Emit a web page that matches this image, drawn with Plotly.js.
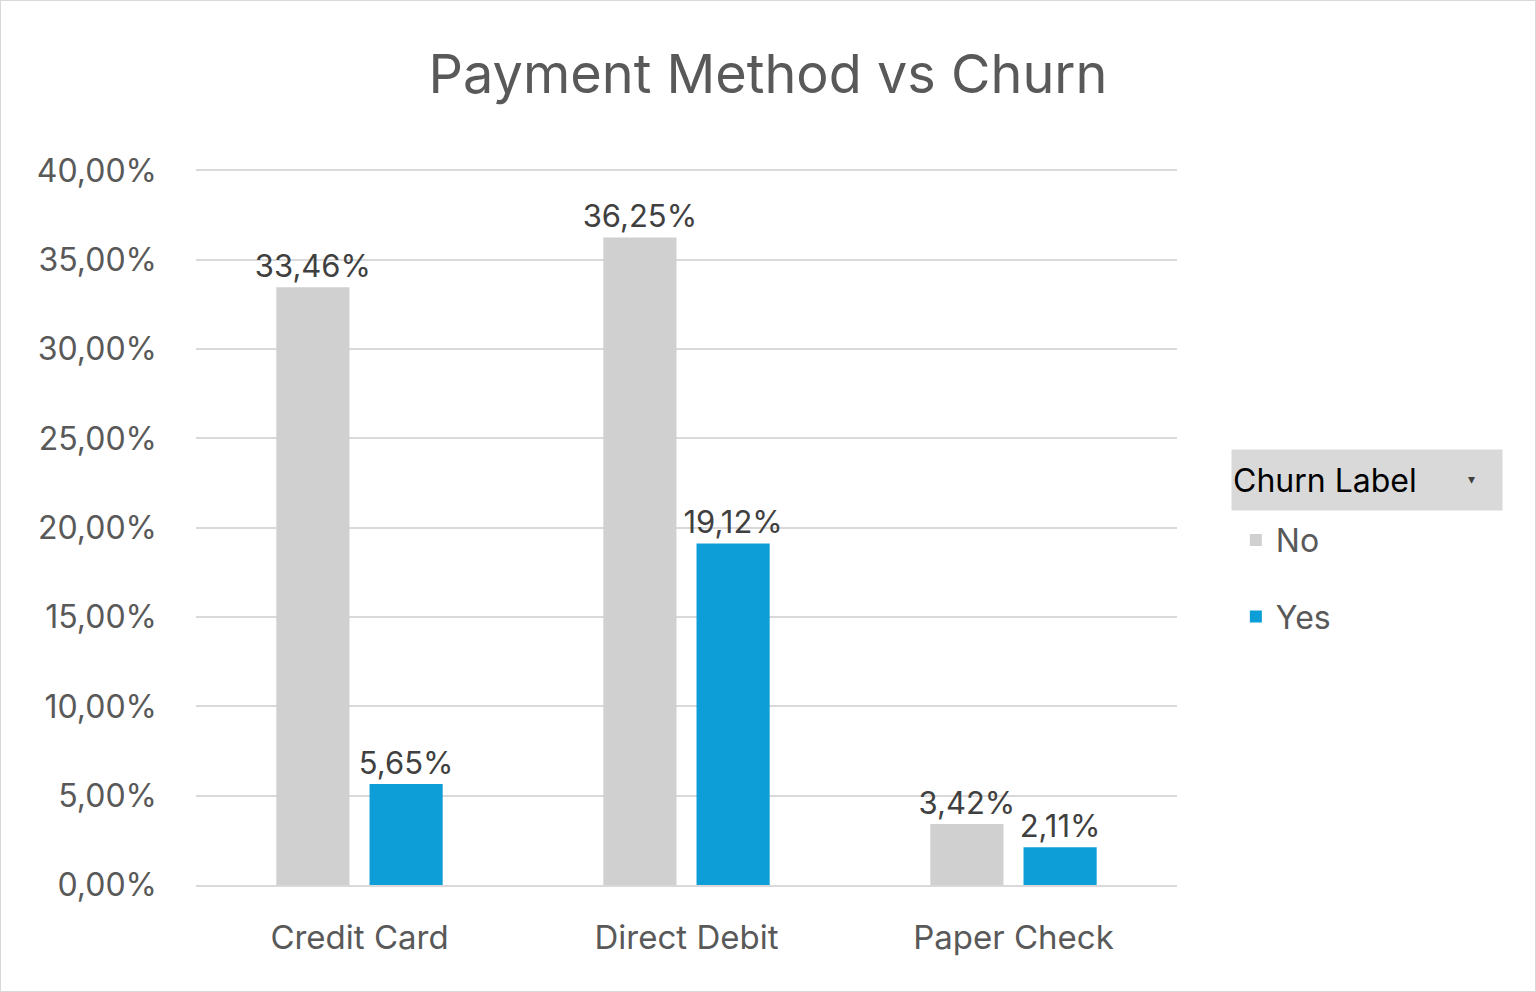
<!DOCTYPE html>
<html>
<head>
<meta charset="utf-8">
<script src="https://cdn.plot.ly/plotly-3.0.1.min.js"></script>
<style>
  html, body { margin: 0; padding: 0; background: #fff; }
  #chart { width: 1534px; height: 990px; border: 1px solid #D9D9D9; }
</style>
</head>
<body>
<div id="chart"></div>
<script>
const categories = ['Credit Card', 'Direct Debit', 'Paper Check'];
const noValues = [0.3346, 0.3625, 0.0342];
const yesValues = [0.0565, 0.1912, 0.0211];
const yTicks = [0, 0.05, 0.10, 0.15, 0.20, 0.25, 0.30, 0.35, 0.40];

const font = 'Inter, "Open Sans", sans-serif';

const traces = [
  {
    type: 'bar', name: 'No', x: categories, y: noValues, legendgroup: 'no',
    marker: { color: '#D0D0D0' },
    texttemplate: '%{y:.2%}', textposition: 'outside', cliponaxis: false, constraintext: 'none',
    textfont: { size: 31, color: '#404040', family: font }
  },
  {
    type: 'bar', name: 'Yes', x: categories, y: yesValues, legendgroup: 'yes',
    marker: { color: '#0E9ED7' },
    texttemplate: '%{y:.2%}', textposition: 'outside', cliponaxis: false, constraintext: 'none',
    textfont: { size: 31, color: '#404040', family: font }
  }
];

const layout = {
  width: 1534, height: 990,
  separators: ',.',
  title: { text: 'Payment Method vs Churn', font: { size: 54, color: '#595959', family: font }, x: 0.5, y: 0.945 },
  margin: { l: 195, r: 358, t: 168, b: 106 },
  barmode: 'group', bargap: 0.43, bargroupgap: 0.215,
  xaxis: { tickfont: { size: 33, color: '#595959', family: font }, showline: true, linecolor: '#D9D9D9', linewidth: 2, ticks: '', ticklabelstandoff: 22 },
  yaxis: {
    range: [0, 0.4008], tickvals: yTicks, tickformat: '.2%',
    tickfont: { size: 32, color: '#595959', family: font },
    gridcolor: '#D9D9D9', gridwidth: 2, zeroline: false, ticklen: 0, ticks: '', ticklabelstandoff: 38
  },
  showlegend: true,
  legend: { x: 1.06, y: 0.52, xanchor: 'left', yanchor: 'top', traceorder: 'grouped',
    font: { size: 32, color: '#595959', family: font }, tracegroupgap: 32, itemwidth: 30 },
  annotations: [
    { xref: 'paper', yref: 'paper', x: 1.055, y: 0.566, xanchor: 'left', yanchor: 'middle',
      text: 'Churn Label', showarrow: false, align: 'left',
      font: { size: 32, color: '#000', family: font }, bgcolor: '#D9D9D9', width: 268, height: 58 },
    { xref: 'paper', yref: 'paper', x: 1.3, y: 0.568, xanchor: 'center', yanchor: 'middle',
      text: '▾', showarrow: false, font: { size: 14, color: '#404040', family: font } }
  ],
  plot_bgcolor: '#fff', paper_bgcolor: '#fff'
};

Plotly.newPlot('chart', traces, layout, { displayModeBar: false });
</script>
</body>
</html>
